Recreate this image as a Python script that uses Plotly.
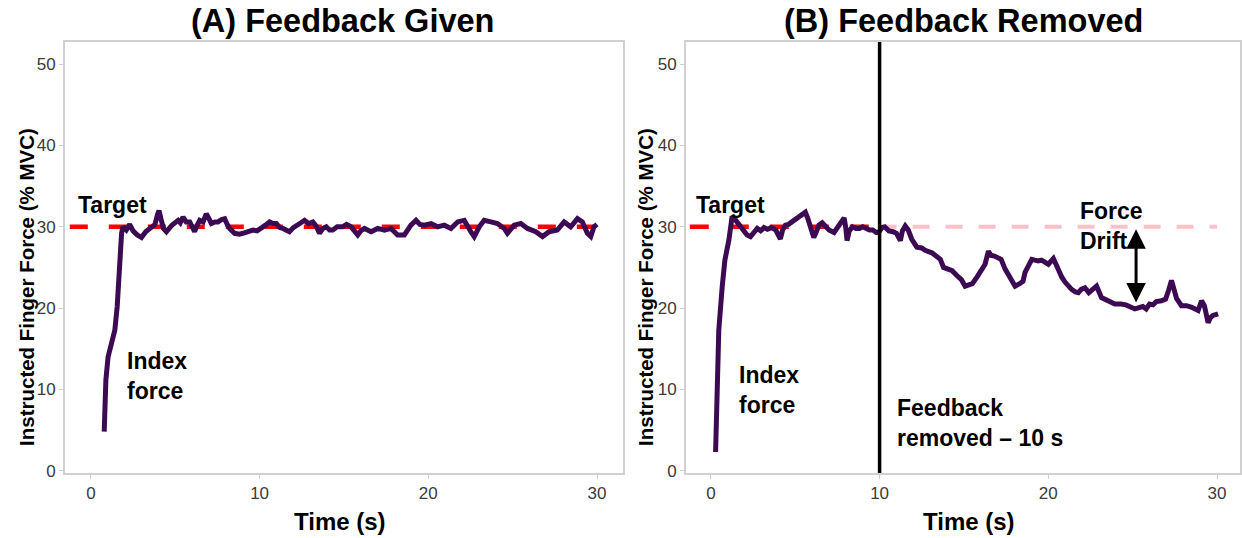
import plotly.graph_objects as go

# ---------------- data ----------------
time_a = [0.79, 0.89, 1.02, 1.42, 1.56, 1.67, 1.82, 1.9, 2.1, 2.3, 2.5, 2.75, 3.0, 3.25, 3.59, 3.8,
          3.95, 4.04, 4.15, 4.3, 4.48, 4.8, 5.17, 5.3, 5.46, 5.65, 5.86, 6.15, 6.3, 6.45, 6.65, 6.84,
          7.0, 7.14, 7.35, 7.53, 7.75, 7.93, 8.1, 8.22, 8.52, 8.8, 9.01, 9.3, 9.6, 9.85, 10.1, 10.35,
          10.59, 10.8, 10.99, 11.2, 11.38, 11.6, 11.77, 12.0, 12.17, 12.45, 12.66, 12.9, 13.16, 13.35,
          13.55, 13.75, 13.95, 14.15, 14.34, 14.6, 14.93, 15.15, 15.42, 15.82, 16.0, 16.21, 16.61,
          17.0, 17.4, 17.79, 18.18, 18.58, 18.97, 19.27, 19.5, 19.76, 20.16, 20.55, 20.95, 21.34,
          21.74, 22.13, 22.52, 22.72, 23.02, 23.31, 23.71, 24.1, 24.5, 24.69, 25.09, 25.48, 25.88,
          26.37, 26.77, 27.16, 27.65, 28.05, 28.44, 28.84, 29.13, 29.43, 29.63, 29.82, 30.0]
force_a = [4.8, 11.2, 14.0, 17.3, 20.2, 25.5, 29.2, 30.0, 29.6, 30.3, 29.5, 29.0, 28.7, 29.4, 30.0, 30.3,
           31.5, 32.0, 31.0, 29.8, 29.4, 30.2, 30.8, 30.5, 31.2, 30.6, 30.6, 29.4, 30.2, 30.8, 30.6, 31.6,
           31.0, 30.4, 30.6, 30.6, 30.9, 31.0, 30.2, 29.8, 29.2, 29.1, 29.2, 29.4, 29.6, 29.5, 29.8, 30.2,
           30.6, 30.4, 30.4, 29.9, 29.8, 29.6, 29.4, 29.9, 30.2, 30.5, 30.8, 30.4, 30.6, 30.1,
           29.2, 29.8, 30.0, 29.6, 29.6, 30.0, 30.0, 30.3, 30.0, 29.0, 29.5, 29.8, 29.4,
           29.8, 29.6, 29.8, 29.0, 29.0, 30.2, 30.8, 30.3, 30.2, 30.4, 30.0, 30.2, 29.8,
           30.6, 30.8, 29.4, 28.8, 30.0, 30.8, 30.6, 30.4, 29.8, 29.2, 30.2, 30.4, 29.8,
           29.4, 28.8, 29.4, 29.6, 30.6, 30.0, 31.0, 30.6, 29.2, 28.8, 30.0, 30.3]

time_b = [0.28, 0.37, 0.47, 0.67, 0.83, 1.07, 1.26, 1.4, 1.56, 1.75, 1.95, 2.15, 2.35, 2.55, 2.75, 2.95,
          3.15, 3.35, 3.6, 3.85, 4.0, 4.12, 4.25, 4.42, 4.6, 4.81, 5.0, 5.2, 5.4, 5.6, 5.75, 5.9, 6.1,
          6.25, 6.4, 6.6, 6.8, 7.0, 7.3, 7.5, 7.7, 7.9, 8.0, 8.07, 8.2, 8.4, 8.6, 8.8, 9.0, 9.2, 9.4,
          9.6, 9.8, 9.94, 10.14, 10.3, 10.55, 10.8, 11.0, 11.23, 11.35, 11.52, 11.7, 11.9, 12.21, 12.5,
          12.7, 13.1, 13.4, 13.6, 13.79, 14.1, 14.3, 14.68, 14.85, 15.07, 15.3, 15.5, 15.8, 16.05,
          16.25, 16.45, 16.6, 16.8, 17.0, 17.2, 17.44, 17.73, 18.03, 18.3, 18.5, 18.62, 18.8, 19.02,
          19.2, 19.4, 19.6, 19.8, 20.0, 20.3, 20.59, 20.8, 20.99, 21.2, 21.38, 21.6, 21.78, 21.95,
          22.17, 22.4, 22.6, 22.86, 23.15, 23.5, 23.94, 24.3, 24.6, 25.13, 25.4, 25.6, 25.8, 26.0,
          26.2, 26.4, 26.71, 26.95, 27.1, 27.3, 27.45, 27.6, 27.89, 28.2, 28.5, 28.88, 29.08, 29.25,
          29.47, 29.6, 29.76, 30.06]
force_b = [2.3, 11.2, 17.3, 22.6, 25.9, 28.4, 31.3, 31.0, 30.6, 29.9, 29.5, 29.0, 28.8, 29.4, 29.8, 29.5,
           29.9, 29.7, 29.9, 29.6, 29.0, 28.5, 29.6, 30.2, 30.3, 30.6, 30.8, 31.1, 31.5, 31.8, 31.0, 30.0, 28.7,
           29.4, 30.2, 30.5, 30.0, 29.6, 29.3, 29.9, 30.5, 31.1, 29.8, 28.3, 29.5, 30.0, 29.8, 29.8, 30.0, 29.8, 29.6,
           29.6, 29.3, 29.3, 29.9, 30.0, 29.5, 29.4, 29.2, 28.3, 29.5, 30.1, 29.6, 28.5, 27.5, 27.4,
           27.1, 26.8, 26.4, 26.0, 25.0, 24.8, 24.6, 23.8, 23.5, 22.7, 22.9, 23.0, 23.9, 24.6,
           25.4, 27.0, 26.5, 26.4, 26.2, 26.0, 24.8, 23.6, 22.7, 23.0, 23.3, 24.4, 25.2, 26.0,
           25.9, 25.8, 25.9, 25.6, 25.4, 26.1, 24.6, 23.8, 23.2, 22.6, 22.3, 22.0, 21.9, 22.3,
           22.5, 21.9, 22.3, 22.7, 21.3, 21.0, 20.5, 20.5, 20.4, 19.9, 20.1, 20.2, 19.9, 20.5,
           20.4, 20.8, 20.9, 21.1, 22.0, 23.4, 22.3, 21.2, 20.3, 20.3, 20.1, 19.7, 20.9, 20.3,
           18.2, 18.8, 19.1, 19.3]

target = 30
target_start = -1.25
feedback_off = 10
trial_end = 30
drift_time = 25.2
drift_low = 20.5
drift_high = 29.7

x_ticks = [0, 10, 20, 30]
y_ticks = [0, 10, 20, 30, 40, 50]
panel_titles = ["(A) Feedback Given", "(B) Feedback Removed"]
x_title = "Time (s)"
y_title = "Instructed Finger Force (% MVC)"

# ---------------- figure ----------------
W, H = 1242, 546      # figure size
REF_H = 538           # layout positions below are given for a 538 px tall picture
FONT = "Liberation Sans, Arial, sans-serif"
PURPLE = "#3b0a52"
RED = "#ff0000"
PINK = "#ffc0cb"
GRID = "#d0d0d0"

def px(xp):
    return xp / W

def py(yp):
    return 1 - yp / REF_H

fig = go.Figure()

# target lines
fig.add_trace(go.Scatter(x=[target_start, trial_end], y=[target, target], mode="lines",
                         line=dict(color=RED, width=4.5, dash="18px,21px"),
                         xaxis="x", yaxis="y", hoverinfo="skip"))
fig.add_trace(go.Scatter(x=[target_start, feedback_off], y=[target, target], mode="lines",
                         line=dict(color=RED, width=4.5, dash="19px,21px"),
                         xaxis="x2", yaxis="y2", hoverinfo="skip"))
fig.add_trace(go.Scatter(x=[feedback_off, trial_end], y=[target, target], mode="lines",
                         line=dict(color=PINK, width=4, dash="17px,16px"),
                         xaxis="x2", yaxis="y2", hoverinfo="skip"))

# force traces
fig.add_trace(go.Scatter(x=time_a, y=force_a, mode="lines",
                         line=dict(color=PURPLE, width=5), xaxis="x", yaxis="y"))
fig.add_trace(go.Scatter(x=time_b, y=force_b, mode="lines",
                         line=dict(color=PURPLE, width=5), xaxis="x2", yaxis="y2"))

# vertical line for feedback removal
fig.add_shape(type="line", xref="x2", yref="y2 domain", x0=feedback_off, x1=feedback_off,
              y0=0, y1=1, line=dict(color="black", width=3.5))

axis_common = dict(showgrid=False, zeroline=False, showline=True, mirror=True,
                   linecolor=GRID, linewidth=1.5, ticks="outside", ticklen=4,
                   tickcolor=GRID, tickwidth=1.2,
                   tickfont=dict(family=FONT, size=17, color="#3a3a3a"))

ydom = [py(473), py(42)]
fig.update_layout(
    width=W, height=H,
    margin=dict(l=0, r=0, t=0, b=0),
    paper_bgcolor="white", plot_bgcolor="white",
    showlegend=False,
    xaxis=dict(domain=[px(65), px(624)], range=[-1.54, 31.54], tickvals=x_ticks, anchor="y", **axis_common),
    yaxis=dict(domain=ydom, range=[-0.28, 52.73], tickvals=y_ticks, anchor="x", **axis_common),
    xaxis2=dict(domain=[px(687), 1.0], range=[-1.48, 31.36], tickvals=x_ticks, anchor="y2", **axis_common),
    yaxis2=dict(domain=ydom, range=[-0.28, 52.73], tickvals=y_ticks, anchor="x2", **axis_common),
)

def txt(text, x, y, size, xref="paper", yref="paper", xanchor="center", yanchor="middle",
        textangle=0, align="center"):
    fig.add_annotation(text=text, x=x, y=y, xref=xref, yref=yref, showarrow=False,
                       xanchor=xanchor, yanchor=yanchor, textangle=textangle, align=align,
                       font=dict(family=FONT, size=size, color="black"))

# panel titles
txt("<b>" + panel_titles[0] + "</b>", px(343), py(21), 32.5)
txt("<b>" + panel_titles[1] + "</b>", px(965), py(21), 32.5)
# axis titles
txt("<b>" + x_title + "</b>", px(341), py(521), 24)
txt("<b>" + x_title + "</b>", px(971), py(521), 24)
txt("<b>" + y_title + "</b>", px(26), py(287), 20.5, textangle=-90)
txt("<b>" + y_title + "</b>", px(646), py(287), 20.5, textangle=-90)

# in-plot labels
txt("<b>Target</b>", -0.89, 32.7, 23, xref="x", yref="y", xanchor="left")
txt("<b>Index<br>force</b>", 2.01, 11.65, 23, xref="x", yref="y", xanchor="left", align="left")
txt("<b>Target</b>", -1.0, 32.7, 23, xref="x2", yref="y2", xanchor="left")
txt("<b>Index<br>force</b>", 1.54, 9.9, 23, xref="x2", yref="y2", xanchor="left", align="left")
txt("<b>Feedback<br>removed – 10 s</b>", 10.89, 5.87, 23, xref="x2", yref="y2", xanchor="left", align="left")
txt("<b>Force<br>Drift</b>", 21.78, 30.1, 23, xref="x2", yref="y2", xanchor="left", align="left")

# force drift arrow (double headed)
fig.add_annotation(x=drift_time, y=drift_high, ax=drift_time, ay=drift_low,
                   xref="x2", yref="y2", axref="x2", ayref="y2",
                   showarrow=True, arrowhead=2, startarrowhead=2, arrowside="end+start",
                   arrowsize=1.3, startarrowsize=1.3, arrowwidth=3, arrowcolor="black", text="")

fig.write_html("out.html", config={"displayModeBar": False},
               post_script="document.body.style.margin='0px';")
